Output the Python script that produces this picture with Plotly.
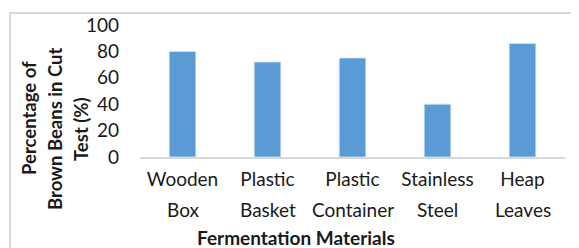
import plotly.graph_objects as go

categories = ["Wooden Box", "Plastic Basket", "Plastic Container", "Stainless Steel", "Heap Leaves"]
tick_line1 = ["Wooden", "Plastic", "Plastic", "Stainless", "Heap"]
tick_line2 = ["Box", "Basket", "Container", "Steel", "Leaves"]
values = [80, 72, 75, 40, 86]
y_ticks = [0, 20, 40, 60, 80, 100]
y_title_lines = ["Percentage of", "Brown Beans in Cut", "Test (%)"]
x_title = "Fermentation Materials"

FONT = "Lato"
W, H = 579, 248
OFF = 8  # page body margin
# target screen positions: plot left 140, right 565, top 25, bottom 157
ml = 140 - OFF
mr = W - (565 - OFF)
mt = 25 - OFF
mb = H - (157 - OFF)
pw, ph = W - ml - mr, H - mt - mb


def px_x(p):
    return (p - OFF - ml) / pw


def px_y(p):
    return (H - mb - (p - OFF)) / ph


fig = go.Figure(go.Bar(
    x=categories, y=values,
    marker=dict(color="#5b9bd5", line=dict(color="#dce8f5", width=0.8)),
))

annotations = []
for xc, yc, t in zip([29, 55, 81], [118, 129, 129], y_title_lines):
    annotations.append(dict(
        text="<b>" + t + "</b>", xref="paper", yref="paper",
        x=px_x(xc), y=px_y(yc), xanchor="center", yanchor="middle",
        textangle=-90, showarrow=False, font=dict(size=18.5),
    ))
for cat, t in zip(categories, tick_line2):
    annotations.append(dict(
        text=t, xref="x", yref="paper", x=cat, y=px_y(209),
        xanchor="center", yanchor="middle", showarrow=False,
        font=dict(size=19),
    ))
annotations.append(dict(
    text="<b>" + x_title + "</b>", xref="paper", yref="paper",
    x=px_x(296), y=px_y(237), xanchor="center", yanchor="middle",
    showarrow=False, font=dict(size=19),
))

fig.update_layout(
    width=W, height=H,
    margin=dict(l=ml, r=mr, t=mt, b=mb, autoexpand=False),
    paper_bgcolor="white", plot_bgcolor="white",
    bargap=0.686,
    showlegend=False,
    font=dict(family=FONT, size=19, color="#1a1a1a"),
    xaxis=dict(
        showline=True, linecolor="#d9d9d9", linewidth=1.5,
        tickvals=categories, ticktext=tick_line1,
        ticks="", showgrid=False, ticklabelstandoff=4, automargin=False,
    ),
    yaxis=dict(
        range=[0, 100], tickvals=y_ticks, showgrid=False, zeroline=False,
        showline=False, ticks="", ticklabelstandoff=20, automargin=False,
    ),
    annotations=annotations,
    shapes=[dict(
        type="rect", xref="paper", yref="paper",
        x0=px_x(10), x1=2, y0=-2, y1=px_y(13),
        line=dict(color="#d9d9d9", width=2), layer="below",
    )],
)

fig.write_html("out.html")
